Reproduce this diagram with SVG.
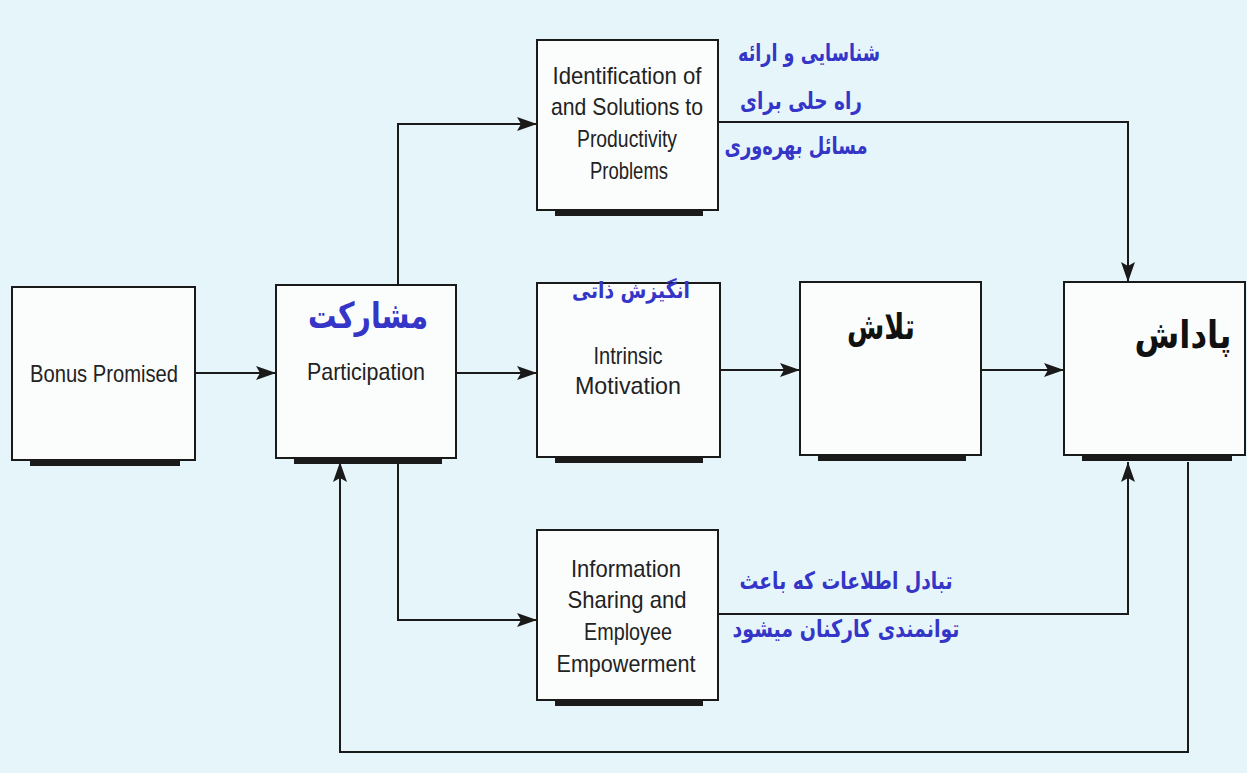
<svg xmlns="http://www.w3.org/2000/svg" width="1247" height="773" viewBox="0 0 1247 773">
<style>
.box{fill:#fbfdfd;stroke:#1a1a1a;stroke-width:2}
.sh{fill:#1a1a1a}
.en{font-family:"Liberation Sans",Arial,sans-serif;font-size:24px;fill:#222;text-anchor:middle}
.fa{font-family:"DejaVu Sans",sans-serif;font-weight:bold;fill:#3535c8;text-anchor:middle}
.fab{font-family:"DejaVu Sans",sans-serif;font-weight:bold;fill:#111;text-anchor:middle}
.ln{fill:none;stroke:#1a1a1a;stroke-width:2}
</style>
<defs>
<marker id="arb" viewBox="0 0 20 14" refX="20" refY="7" markerWidth="20" markerHeight="14" markerUnits="userSpaceOnUse" orient="auto">
<path d="M0,0 L20,7 L0,14 L4,7 z" fill="#1a1a1a"/>
</marker>
</defs>
<rect width="1247" height="773" fill="#e6f5fa"/>
<g id="connectors">
<path class="ln" d="M195,373 H276" marker-end="url(#arb)"/>
<path class="ln" d="M456,373 H537" marker-end="url(#arb)"/>
<path class="ln" d="M720,370 H800" marker-end="url(#arb)"/>
<path class="ln" d="M981,370 H1064" marker-end="url(#arb)"/>
<path class="ln" d="M398,285 V124 H537" marker-end="url(#arb)"/>
<path class="ln" d="M398,458 V620 H537" marker-end="url(#arb)"/>
<path class="ln" d="M718,122 H1128 V282" marker-end="url(#arb)"/>
<path class="ln" d="M718,614 H1128 V462" marker-end="url(#arb)"/>
<path class="ln" d="M1188,462 V752 H340 V462" marker-end="url(#arb)"/>
</g>
<g id="bonus">
<rect class="sh" x="30" y="460" width="150" height="6"/>
<rect class="box" x="12" y="287" width="183" height="173"/>
<text class="en" x="104" y="382" textLength="148" lengthAdjust="spacingAndGlyphs">Bonus Promised</text>
</g>
<g id="participation">
<rect class="sh" x="294" y="458" width="148" height="6"/>
<rect class="box" x="276" y="285" width="180" height="173"/>
<text class="fa" x="368" y="328" font-size="36" textLength="120" lengthAdjust="spacingAndGlyphs">مشارکت</text>
<text class="en" x="366" y="380" textLength="118" lengthAdjust="spacingAndGlyphs">Participation</text>
</g>
<g id="identification">
<rect class="sh" x="555" y="210" width="148" height="6"/>
<rect class="box" x="537" y="40" width="181" height="170"/>
<text class="en" x="627" y="84" textLength="149" lengthAdjust="spacingAndGlyphs">Identification of</text>
<text class="en" x="627" y="115" textLength="152" lengthAdjust="spacingAndGlyphs">and Solutions to</text>
<text class="en" x="627" y="147" textLength="100" lengthAdjust="spacingAndGlyphs">Productivity</text>
<text class="en" x="629" y="179" textLength="78" lengthAdjust="spacingAndGlyphs">Problems</text>
</g>
<g id="intrinsic">
<rect class="sh" x="555" y="457" width="148" height="6"/>
<rect class="box" x="537" y="283" width="183" height="174"/>
<text class="fa" x="631" y="298" font-size="22" textLength="118" lengthAdjust="spacingAndGlyphs">انگیزش ذاتی</text>
<text class="en" x="628" y="364" textLength="69" lengthAdjust="spacingAndGlyphs">Intrinsic</text>
<text class="en" x="628" y="394" textLength="106" lengthAdjust="spacingAndGlyphs">Motivation</text>
</g>
<g id="effort">
<rect class="sh" x="818" y="455" width="148" height="6"/>
<rect class="box" x="800" y="282" width="181" height="173"/>
<text class="fab" x="881" y="339" font-size="36" textLength="68" lengthAdjust="spacingAndGlyphs">تلاش</text>
</g>
<g id="reward">
<rect class="sh" x="1082" y="455" width="150" height="6"/>
<rect class="box" x="1064" y="282" width="181" height="173"/>
<text class="fab" x="1183" y="348" font-size="38" textLength="97" lengthAdjust="spacingAndGlyphs">پاداش</text>
</g>
<g id="info">
<rect class="sh" x="555" y="700" width="148" height="6"/>
<rect class="box" x="537" y="530" width="181" height="170"/>
<text class="en" x="626" y="577" textLength="110" lengthAdjust="spacingAndGlyphs">Information</text>
<text class="en" x="627" y="608" textLength="119" lengthAdjust="spacingAndGlyphs">Sharing and</text>
<text class="en" x="628" y="640" textLength="88" lengthAdjust="spacingAndGlyphs">Employee</text>
<text class="en" x="626" y="672" textLength="139" lengthAdjust="spacingAndGlyphs">Empowerment</text>
</g>
<g id="labels">
<text class="fa" x="809" y="61" font-size="24" textLength="142" lengthAdjust="spacingAndGlyphs">شناسایی و ارائه</text>
<text class="fa" x="801" y="109" font-size="24" textLength="122" lengthAdjust="spacingAndGlyphs">راه حلی برای</text>
<text class="fa" x="796" y="154" font-size="24" textLength="143" lengthAdjust="spacingAndGlyphs">مسائل بهره‌وری</text>
<text class="fa" x="846" y="589" font-size="24" textLength="213" lengthAdjust="spacingAndGlyphs">تبادل اطلاعات که باعث</text>
<text class="fa" x="846" y="637" font-size="24" textLength="227" lengthAdjust="spacingAndGlyphs">توانمندی کارکنان میشود</text>
</g>
</svg>
